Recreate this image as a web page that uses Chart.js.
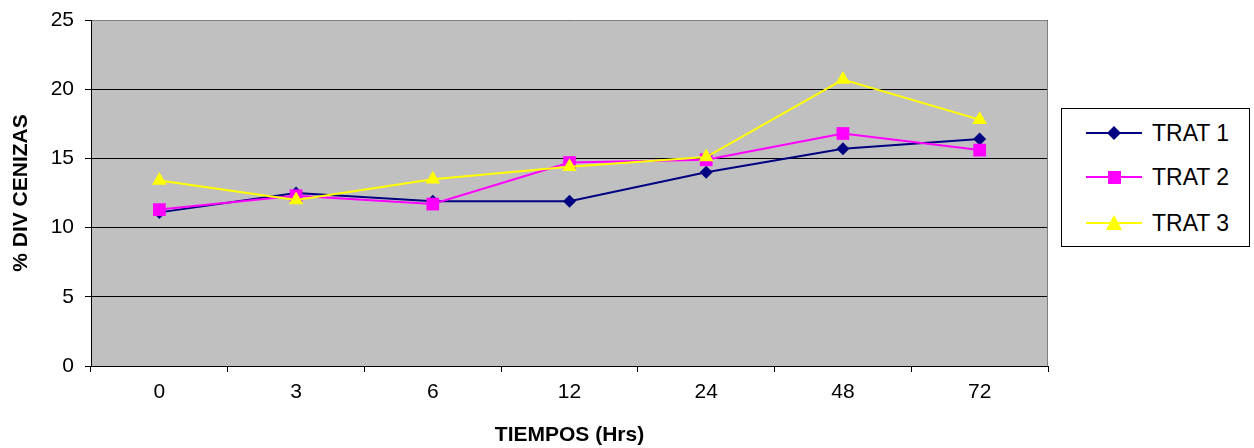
<!DOCTYPE html>
<html>
<head>
<meta charset="utf-8">
<script src="https://cdn.jsdelivr.net/npm/chart.js@4/dist/chart.umd.min.js"></script>
<style>
  body { margin: 0; background: #fff; font-family: "Liberation Sans", Arial, sans-serif; }
  #wrap { position: relative; width: 1254px; height: 448px; }
  #legend {
    position: absolute; left: 1061px; top: 108px; width: 187px; height: 137px;
    border: 1px solid #000; background: #fff;
  }
  .row { position: absolute; left: 24px; height: 30px; display: flex; align-items: center; }
  .row span { font-size: 23px; color: #000; margin-left: 10px; }
</style>
</head>
<body>
<div id="wrap">
  <canvas id="myChart"></canvas>
  <div id="legend"></div>
</div>
<script>
// tiempos (hrs) on the x axis
const tiempos = ["0", "3", "6", "12", "24", "48", "72"];

// % div cenizas for each tratamiento
const trat1 = [11.1, 12.5, 11.9, 11.9, 14.0, 15.7, 16.4];
const trat2 = [11.3, 12.3, 11.7, 14.7, 14.9, 16.8, 15.6];
const trat3 = [13.4, 12.0, 13.5, 14.4, 15.1, 20.7, 17.8];

const seriesNames = ["TRAT 1", "TRAT 2", "TRAT 3"];
const seriesColors = ["#000080", "#FF00FF", "#FFFF00"];
const seriesMarkers = ["rectRot", "rect", "triangle"];
const markerSizes = [6.5, 9, 8.5];

const yTicks = [0, 5, 10, 15, 20, 25];

// gray plot area + gray top/right border like the excel chart
const plotArea = {
  id: "plotArea",
  beforeDraw(chart) {
    const { ctx, chartArea: a } = chart;
    ctx.save();
    ctx.fillStyle = "#C0C0C0";
    ctx.fillRect(a.left, a.top, a.right - a.left, a.bottom - a.top);
    ctx.restore();
  },
  afterDraw(chart) {
    const { ctx, chartArea: a } = chart;
    ctx.save();
    ctx.strokeStyle = "#808080";
    ctx.lineWidth = 1;
    ctx.beginPath();
    ctx.moveTo(a.left + 1, a.top + 0.5);
    ctx.lineTo(a.right - 0.5, a.top + 0.5);
    ctx.lineTo(a.right - 0.5, a.bottom);
    ctx.stroke();
    ctx.restore();
  },
};

const datasets = [trat1, trat2, trat3].map((vals, i) => ({
  label: seriesNames[i],
  data: vals,
  borderColor: seriesColors[i],
  backgroundColor: seriesColors[i],
  borderWidth: 2,
  pointStyle: seriesMarkers[i],
  pointRadius: markerSizes[i],
  pointBorderWidth: 0,
  tension: 0,
  order: 2 - i, // later series drawn on top
}));

const config = {
  type: "line",
  data: { labels: tiempos, datasets },
  options: {
    responsive: true,
    maintainAspectRatio: false,
    animation: false,
    layout: { padding: { left: 0, top: 20, right: 206, bottom: 0 } },
    plugins: { legend: { display: false }, tooltip: { enabled: false } },
    scales: {
      x: {
        offset: true,
        afterFit: (scale) => { scale.height = 82; },
        grid: { offset: true, drawOnChartArea: false, drawTicks: true, tickLength: 6, color: "#000" },
        border: { color: "#000", width: 1 },
        ticks: { color: "#000", padding: 8, font: { family: "Liberation Sans", size: 21 } },
        title: {
          display: true,
          text: "TIEMPOS (Hrs)",
          color: "#000",
          padding: { top: 0, bottom: 0 },
          font: { family: "Liberation Sans", size: 21, weight: "bold" },
        },
      },
      y: {
        min: 0,
        max: 25,
        afterFit: (scale) => {
          scale.width = 91;
          // let the layout padding decide where the plot starts
          scale.paddingTop = 0;
          scale.paddingBottom = 0;
        },
        afterBuildTicks: (scale) => { scale.ticks = yTicks.map((v) => ({ value: v })); },
        grid: { color: "#000", tickLength: 6 },
        border: { color: "#000", width: 1 },
        ticks: { color: "#000", padding: 11, font: { family: "Liberation Sans", size: 21 } },
        title: {
          display: true,
          text: "% DIV CENIZAS",
          color: "#000",
          padding: { top: 9, bottom: 0 },
          font: { family: "Liberation Sans", size: 21, weight: "bold" },
        },
      },
    },
  },
  plugins: [plotArea],
};

const myChart = new Chart(document.getElementById("myChart"), config);

// legend box on the right: line with marker, then name
function markerSvg(i) {
  const c = seriesColors[i];
  let shape = "";
  if (i === 0) shape = `<polygon points="28,8 35,15 28,22 21,15" fill="${c}"/>`;
  if (i === 1) shape = `<rect x="22" y="9" width="13" height="13" fill="${c}"/>`;
  if (i === 2) shape = `<polygon points="28,7 36,22 20,22" fill="${c}"/>`;
  return `<svg width="56" height="30"><line x1="0" y1="15" x2="56" y2="15" stroke="${c}" stroke-width="2"/>${shape}</svg>`;
}

const legendEl = document.getElementById("legend");
const rowTops = [9, 53, 99];
seriesNames.forEach((name, i) => {
  const row = document.createElement("div");
  row.className = "row";
  row.style.top = rowTops[i] + "px";
  row.innerHTML = markerSvg(i) + `<span>${name}</span>`;
  legendEl.appendChild(row);
});
</script>
</body>
</html>
